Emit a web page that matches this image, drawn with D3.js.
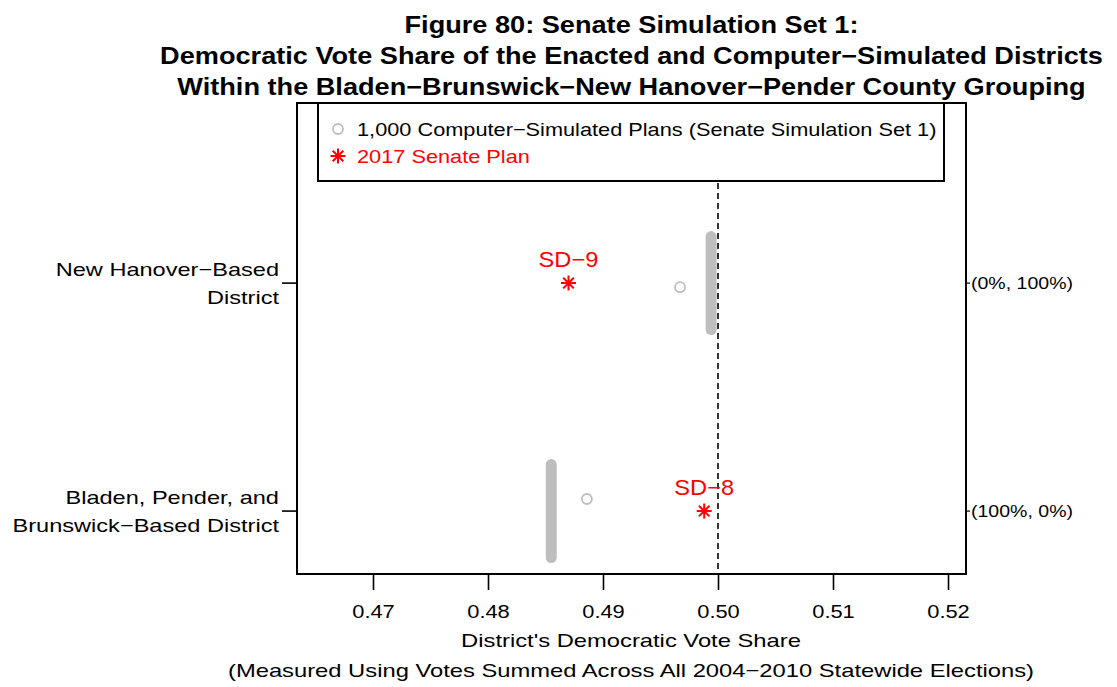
<!DOCTYPE html>
<html>
<head>
<meta charset="utf-8">
<script src="https://cdn.jsdelivr.net/npm/d3@7/dist/d3.min.js"></script>
<style>
  html, body { margin: 0; padding: 0; background: #fff; }
  svg { display: block; font-family: "Liberation Sans", Arial, Helvetica, sans-serif; }
</style>
</head>
<body>
<svg id="chart" width="1117" height="687"></svg>
<script>
// Districts in the county grouping (position 2 = top row, 1 = bottom row)
const districtLabels = [
  ["Bladen, Pender, and", "Brunswick\u2212Based District"],
  ["New Hanover\u2212Based", "District"]
];
const districtPos = [1, 2];
const rightLabels = ["(100%, 0%)", "(0%, 100%)"];

// Enacted 2017 Senate plan: Democratic vote share by district
const enactedNames = ["SD\u22128", "SD\u22129"];
const enactedShare = [0.4988, 0.4870];

// Simulated plans: dominant cluster value and rare alternative value per district
const simClusterShare = [0.4855, 0.4994];
const simOutlierShare = [0.4886, 0.4967];
const simOutlierJitter = [0.053, -0.018];
const jitterHalfWidth = 0.204;

const xTicks = [0.47, 0.48, 0.49, 0.50, 0.51, 0.52];
const halfLine = 0.50;

const titleLines = [
  "Figure 80: Senate Simulation Set 1:",
  "Democratic Vote Share of the Enacted and Computer\u2212Simulated Districts",
  "Within the Bladen\u2212Brunswick\u2212New Hanover\u2212Pender County Grouping"
];
const legendItems = ["1,000 Computer\u2212Simulated Plans (Senate Simulation Set 1)", "2017 Senate Plan"];

const svg = d3.select("#chart");
const plot = { left: 297, right: 966, top: 103, bottom: 574 };
const grayCol = "#BEBEBE";
const red = "#FF0000";

// Widen glyphs horizontally by factor k (the device font is a wide Helvetica)
function widen(sel, k) {
  sel.each(function () {
    const w = this.getComputedTextLength();
    d3.select(this).attr("textLength", w * k).attr("lengthAdjust", "spacingAndGlyphs");
  });
}

const x = d3.scaleLinear().domain([0.47, 0.52]).range([373, 948]);
const y = d3.scaleLinear().domain([0.724, 2.79]).range([plot.bottom, plot.top]);

// Title
const titleY = [33, 64, 95];
svg.append("g").selectAll("text").data(titleLines).join("text")
  .attr("x", (plot.left + plot.right) / 2)
  .attr("y", (d, i) => titleY[i])
  .attr("text-anchor", "middle")
  .attr("font-size", 23)
  .attr("font-weight", "bold")
  .text(d => d)
  .call(widen, 1.18);

// Reference line at 50%
svg.append("line")
  .attr("x1", x(halfLine)).attr("x2", x(halfLine))
  .attr("y1", plot.top).attr("y2", plot.bottom)
  .attr("stroke", "#000").attr("stroke-width", 1.6)
  .attr("stroke-dasharray", "6,4");

// Simulated plan clusters (many overlapping jittered points)
svg.append("g").selectAll("line").data(districtPos).join("line")
  .attr("x1", (d, i) => x(simClusterShare[i]))
  .attr("x2", (d, i) => x(simClusterShare[i]))
  .attr("y1", d => y(d + jitterHalfWidth))
  .attr("y2", d => y(d - jitterHalfWidth))
  .attr("stroke", grayCol).attr("stroke-width", 11)
  .attr("stroke-linecap", "round");

// Less frequent simulated values
svg.append("g").selectAll("circle").data(districtPos).join("circle")
  .attr("cx", (d, i) => x(simOutlierShare[i]))
  .attr("cy", (d, i) => y(d + simOutlierJitter[i]))
  .attr("r", 5)
  .attr("fill", "none").attr("stroke", grayCol).attr("stroke-width", 1.8);

// Asterisk marker
function star(g, cx, cy, r) {
  const d = r * Math.SQRT1_2;
  const p = `M${cx - r},${cy}L${cx + r},${cy}M${cx},${cy - r}L${cx},${cy + r}` +
            `M${cx - d},${cy - d}L${cx + d},${cy + d}M${cx - d},${cy + d}L${cx + d},${cy - d}`;
  g.append("path").attr("d", p).attr("stroke", red).attr("stroke-width", 2).attr("fill", "none");
}

// Enacted districts
const enG = svg.append("g");
districtPos.forEach((p, i) => {
  star(enG, x(enactedShare[i]), y(p), 7.5);
  enG.append("text")
    .attr("x", x(enactedShare[i]))
    .attr("y", y(p) - 16)
    .attr("text-anchor", "middle")
    .attr("font-size", 21.5)
    .attr("fill", red)
    .text(enactedNames[i])
    .call(widen, 1.1);
});

// Legend
const lg = svg.append("g");
lg.append("rect")
  .attr("x", 318).attr("y", plot.top).attr("width", 626).attr("height", 78)
  .attr("fill", "#fff").attr("stroke", "#000").attr("stroke-width", 2);
lg.append("circle").attr("cx", 338).attr("cy", 129).attr("r", 5)
  .attr("fill", "none").attr("stroke", grayCol).attr("stroke-width", 1.8);
star(lg, 338, 156, 7.5);
lg.selectAll("text").data(legendItems).join("text")
  .attr("x", 357)
  .attr("y", (d, i) => 136 + i * 27)
  .attr("font-size", 18.5)
  .attr("fill", (d, i) => i === 0 ? "#000" : red)
  .text(d => d)
  .call(widen, 1.175);

// Plot frame
svg.append("rect")
  .attr("x", plot.left).attr("y", plot.top)
  .attr("width", plot.right - plot.left).attr("height", plot.bottom - plot.top)
  .attr("fill", "none").attr("stroke", "#000").attr("stroke-width", 2);

// Bottom axis
const xAxis = svg.append("g").attr("transform", `translate(0,${plot.bottom})`)
  .call(d3.axisBottom(x).tickValues(xTicks).tickSize(16).tickPadding(15).tickFormat(d3.format(".2f")));
xAxis.select(".domain").remove();
xAxis.selectAll(".tick line").attr("stroke-width", 1.6);
xAxis.selectAll("text").attr("font-size", 19).attr("font-family", "Liberation Sans, Arial, sans-serif")
  .call(widen, 1.15);

svg.append("text").attr("x", 631).attr("y", 647).attr("text-anchor", "middle")
  .attr("font-size", 19).text("District's Democratic Vote Share").call(widen, 1.25);
svg.append("text").attr("x", 631).attr("y", 677).attr("text-anchor", "middle")
  .attr("font-size", 19).text("(Measured Using Votes Summed Across All 2004\u22122010 Statewide Elections)")
  .call(widen, 1.25);

// Left axis with two-line category labels
const leftG = svg.append("g");
districtPos.forEach((p, i) => {
  leftG.append("line")
    .attr("x1", plot.left - 15).attr("x2", plot.left)
    .attr("y1", y(p)).attr("y2", y(p))
    .attr("stroke", "#000").attr("stroke-width", 1.6);
  leftG.append("g").selectAll("text").data(districtLabels[i]).join("text")
    .attr("x", 279)
    .attr("y", (d, k) => y(p) - 7 + k * 28)
    .attr("text-anchor", "end")
    .attr("font-size", 19)
    .text(d => d)
    .call(widen, 1.24);
});

// Right axis with seat split labels
const rightG = svg.append("g");
districtPos.forEach((p, i) => {
  rightG.append("line")
    .attr("x1", plot.right).attr("x2", plot.right + 4)
    .attr("y1", y(p)).attr("y2", y(p))
    .attr("stroke", "#000").attr("stroke-width", 1.2);
  rightG.append("text")
    .attr("x", plot.right + 5)
    .attr("y", y(p) + 6)
    .attr("font-size", 16)
    .text(rightLabels[i])
    .call(widen, 1.22);
});
</script>
</body>
</html>
